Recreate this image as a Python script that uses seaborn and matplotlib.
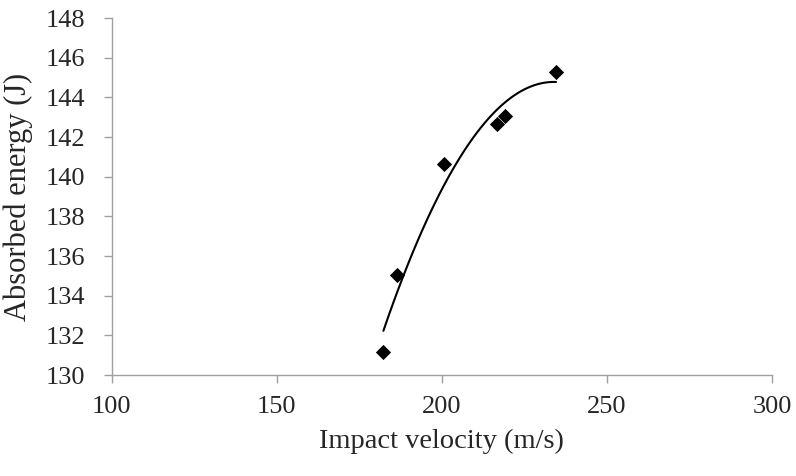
import numpy as np
import pandas as pd
import matplotlib
matplotlib.use("Agg")
import matplotlib.pyplot as plt
import seaborn as sns

# impact test data
velocity = [182.3, 186.4, 200.7, 216.8, 219.2, 234.6]
energy = [131.17, 135.04, 140.64, 142.66, 143.08, 145.30]

x_ticks = [100, 150, 200, 250, 300]
y_ticks = [130, 132, 134, 136, 138, 140, 142, 144, 146, 148]

df = pd.DataFrame({"velocity": velocity, "energy": energy})

sns.set_style("white")
plt.rcParams["font.family"] = ["Liberation Serif", "DejaVu Serif"]

fig = plt.figure(figsize=(7.96, 4.76), dpi=100, facecolor="white")
ax = fig.add_axes([0.1403, 0.212, 0.8295, 0.750])

# polynomial (2nd order) trend line, like the spreadsheet original
sns.regplot(data=df, x="velocity", y="energy", order=2, ci=None, truncate=True,
            marker="D", color="black",
            scatter_kws={"s": 60, "linewidths": 0, "alpha": 1, "zorder": 3},
            line_kws={"linewidth": 1.5, "color": "black"}, ax=ax)

ax.set_xlim(100, 300)
ax.set_ylim(130, 148)
ax.set_xticks(x_ticks)
ax.set_yticks(y_ticks)
ax.set_xlabel("Impact velocity (m/s)", fontsize=20.5, labelpad=8)
ax.set_ylabel("Absorbed energy (J)", fontsize=22, labelpad=9)
ax.tick_params(axis="both", labelsize=19, length=6, width=1, color="#a0a0a0",
               direction="out", bottom=True, left=True)
ax.tick_params(axis="x", pad=9)
ax.tick_params(axis="y", pad=13)

for side in ["top", "right"]:
    ax.spines[side].set_visible(False)
for side in ["left", "bottom"]:
    ax.spines[side].set_color("#a0a0a0")
    ax.spines[side].set_linewidth(1)

fig.savefig("out.png", dpi=100, facecolor="white")
